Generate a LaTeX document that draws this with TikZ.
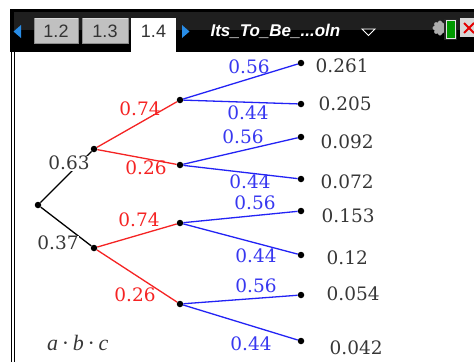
\documentclass[tikz,border=0pt]{standalone}
\usepackage{fontspec}
\setmainfont{DejaVu Serif}
\newfontfamily\uisans{Liberation Sans}
\newfontfamily\abcfont{Liberation Serif}
\definecolor{tred}{RGB}{245,35,35}
\definecolor{tblue}{RGB}{35,35,245}
\definecolor{tblue2}{RGB}{55,55,240}
\definecolor{tgray}{RGB}{55,55,55}
\definecolor{tabgray}{RGB}{192,192,192}
\definecolor{arrowblue}{RGB}{40,140,230}
\begin{document}
\begin{tikzpicture}[x=1pt,y=-1pt,
  dot/.style={circle,fill=black,inner sep=0pt,minimum size=6.5pt},
  blk/.style={draw=black,line width=1.3pt},
  redl/.style={draw=tred,line width=1.3pt},
  bluel/.style={draw=tblue,line width=1.3pt},
  lbl/.style={inner sep=0.5pt,font=\fontsize{18.5}{20}\selectfont},
  blbl/.style={lbl,text=tgray,fill=white},
  rlbl/.style={lbl,text=tred},
  ulbl/.style={lbl,text=tblue2},
  leaf/.style={lbl,text=tgray,anchor=west},
  tabtxt/.style={font=\uisans\fontsize{18}{20}\selectfont,text=black!80}
]
\useasboundingbox (0,0) rectangle (474,362);
\fill[white] (0,0) rectangle (474,362);
% top bar
\fill[black] (10,9) rectangle (474,52);
\fill[black!88] (14,12) rectangle (474,30);
\draw[line width=1.1pt] (11.5,52) -- (11.5,362);
\draw[line width=1.1pt] (14.7,52) -- (14.7,362);
\draw[fill=tabgray,draw=gray!90] (34,18) rectangle (78,43);
\draw[white!70!gray,line width=0.8pt] (34.5,18.5) -- (77.5,18.5);
\draw[fill=tabgray,draw=gray!90] (82,18) rectangle (128,43);
\draw[white!70!gray,line width=0.8pt] (82.5,18.5) -- (127.5,18.5);
\fill[white] (131,18) rectangle (176,53);
\node[tabtxt] (t12) at (56,31) {1.2};
\node[tabtxt] (t13) at (105,31) {1.3};
\node[tabtxt] (t14) at (153.5,31) {1.4};
\fill[arrowblue] (21,25) -- (21,38) -- (13.5,31.5) -- cycle;
\fill[arrowblue] (182,25) -- (182,38) -- (189.5,31.5) -- cycle;
\node[font=\uisans\bfseries\itshape\fontsize{17}{19}\selectfont,text=white,anchor=west] (title) at (207,31) {Its\_To\_Be\_...oln};
\draw[white,line width=0.9pt] (362,29) -- (375,29) -- (368.5,35.5) -- cycle;
% icons
\fill[gray!65] (440,28) circle (6);
\foreach \a in {90,135,...,270} \fill[gray!65] (440,28) ++(\a:5.5) circle (2);
\fill[black!85] (444,19) rectangle (457,40);
\draw[white!80!gray,fill=green!60!black,line width=0.8pt] (446,20.5) rectangle (455,38);
\fill[gray!30] (460,18) rectangle (474,37);
\draw[red!90!black,line width=2pt] (464,23) -- (474,33) (464,33) -- (474,23);
% tree nodes
\node[dot] (r) at (38,205) {};
\node[dot] (a) at (94,149) {};
\node[dot] (b) at (94,248) {};
\node[dot] (aa) at (180,100) {};
\node[dot] (ab) at (180,165) {};
\node[dot] (ba) at (180,223) {};
\node[dot] (bb) at (180,304) {};
\node[dot] (l1) at (301,63) {};
\node[dot] (l2) at (301,104) {};
\node[dot] (l3) at (301,137) {};
\node[dot] (l4) at (301,179) {};
\node[dot] (l5) at (301,211) {};
\node[dot] (l6) at (301,255) {};
\node[dot] (l7) at (301,295) {};
\node[dot] (l8) at (301,341) {};
% edges
\draw[blk] (r) -- (a);
\draw[blk] (r) -- (b);
\draw[redl] (a) -- (aa);
\draw[redl] (a) -- (ab);
\draw[redl] (b) -- (ba);
\draw[redl] (b) -- (bb);
\draw[bluel] (aa) -- (l1);
\draw[bluel] (aa) -- (l2);
\draw[bluel] (ab) -- (l3);
\draw[bluel] (ab) -- (l4);
\draw[bluel] (ba) -- (l5);
\draw[bluel] (ba) -- (l6);
\draw[bluel] (bb) -- (l7);
\draw[bluel] (bb) -- (l8);
% labels
\node[blbl] (p63) at (69,163) {0.63};
\node[blbl] (p37) at (58,243) {0.37};
\node[rlbl] (p74a) at (140,109) {0.74};
\node[rlbl] (p26a) at (146,168) {0.26};
\node[rlbl] (p74b) at (139,220) {0.74};
\node[rlbl] (p26b) at (135,295) {0.26};
\node[ulbl] (q1) at (249,67) {0.56};
\node[ulbl] (q2) at (248,113) {0.44};
\node[ulbl] (q3) at (243,137) {0.56};
\node[ulbl] (q4) at (250,182) {0.44};
\node[ulbl] (q5) at (255,203) {0.56};
\node[ulbl] (q6) at (256,256) {0.44};
\node[ulbl] (q7) at (256,286) {0.56};
\node[ulbl] (q8) at (251,344) {0.44};
\node[leaf] (v1) at (315,66) {0.261};
\node[leaf] (v2) at (318,104) {0.205};
\node[leaf] (v3) at (320,142) {0.092};
\node[leaf] (v4) at (320,182) {0.072};
\node[leaf] (v5) at (321,216) {0.153};
\node[leaf] (v6) at (326,258) {0.12};
\node[leaf] (v7) at (326,294) {0.054};
\node[leaf] (v8) at (329,348) {0.042};
\node[text=tgray,font=\abcfont\itshape\fontsize{22}{24}\selectfont,anchor=west,inner sep=0pt] (abc) at (47,343) {a\,{\upshape·}\,b\,{\upshape·}\,c};
\end{tikzpicture}
\end{document}
